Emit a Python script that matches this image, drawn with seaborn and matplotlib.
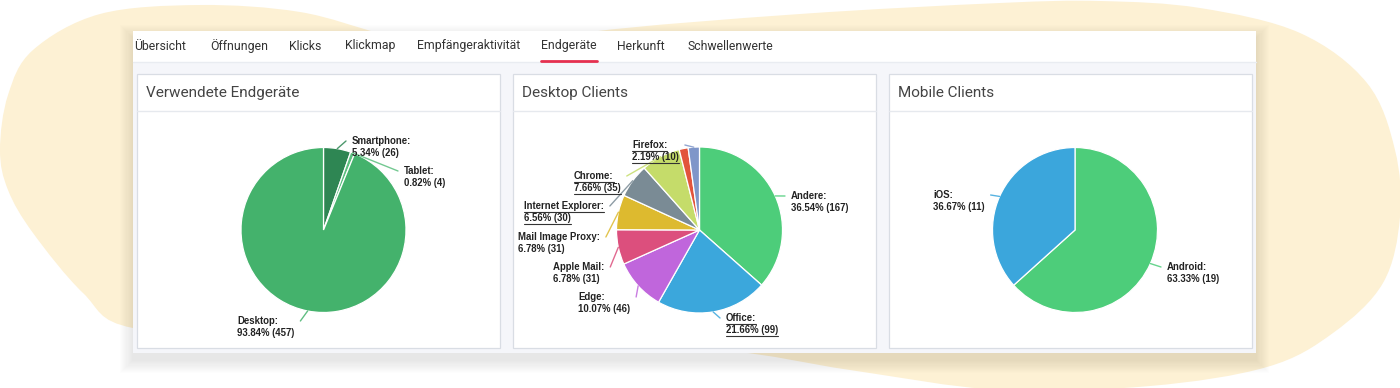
import numpy as np
import matplotlib
matplotlib.use("Agg")
import matplotlib.pyplot as plt
from matplotlib.patches import PathPatch, Rectangle
from matplotlib.path import Path
import seaborn as sns

# --- data ---
tabs = ["Übersicht", "Öffnungen", "Klicks", "Klickmap", "Empfängeraktivität",
        "Endgeräte", "Herkunft", "Schwellenwerte"]
active_tab = "Endgeräte"
titles = ["Verwendete Endgeräte", "Desktop Clients", "Mobile Clients"]

device_labels = ["Smartphone", "Tablet", "Desktop"]
device_counts = [26, 4, 457]

desktop_labels = ["Andere", "Office", "Edge", "Apple Mail", "Mail Image Proxy",
                  "Internet Explorer", "Chrome", "", "Firefox"]
desktop_counts = [167, 99, 46, 31, 31, 30, 35, 8, 10]
desktop_linked = ["Office", "Internet Explorer", "Chrome", "Firefox"]

mobile_labels = ["Android", "iOS"]
mobile_counts = [19, 11]

# --- styles / layout ---
device_colors = ["#2e8653", "#5bbf7e", "#44b26c"]
desktop_colors = ["#4dcd7a", "#3ba7dc", "#c066dc", "#dc4f7d", "#ddba2f",
                  "#7a8b95", "#c5dc6a", "#e2543c", "#7f96c9"]
mobile_colors = ["#4dcd7a", "#3ba6dc"]

# label block positions (x, y of first line, side of pie)
device_pos = [(352, 141, "r"), (404, 171, "r"), (237, 321, "l")]
desktop_pos = [(791, 196, "r"), (726, 318, "r"), (578, 297, "l"), (553, 267, "l"),
               (518, 237, "l"), (524, 206, "l"), (574, 176, "l"), None, (632, 145, "l")]
mobile_pos = [(1167, 267, "r"), (933, 195, "l")]

tab_x = [134, 210, 289, 345, 417, 541, 617, 687]

sns.set_theme(style="white")
plt.rcParams["font.family"] = ["Roboto", "DejaVu Sans"]

W, H = 1400, 388
fig = plt.figure(figsize=(14, 3.88), dpi=100)
fig.patch.set_facecolor("white")
bg = fig.add_axes([0, 0, 1, 1])
bg.set_xlim(0, W)
bg.set_ylim(H, 0)
bg.axis("off")

# cream blob behind the panel (closed Catmull-Rom spline)
pts = np.array([(0, 150), (8, 95), (33, 50), (100, 14), (200, 5), (300, 12), (386, 35),
                (480, 55), (590, 32), (800, 14), (1000, 3), (1100, 1), (1200, 8),
                (1300, 33), (1367, 83), (1395, 150), (1400, 217), (1383, 283),
                (1333, 333), (1267, 367), (1150, 386), (1000, 390), (850, 370),
                (720, 350), (500, 338), (300, 336), (133, 328), (83, 293),
                (33, 233), (8, 190)], dtype=float)
n = len(pts)
verts = [pts[0]]
codes = [Path.MOVETO]
for i in range(n):
    p0, p1, p2, p3 = pts[i - 1], pts[i], pts[(i + 1) % n], pts[(i + 2) % n]
    verts += [p1 + (p2 - p0) / 6, p2 - (p3 - p1) / 6, p2]
    codes += [Path.CURVE4] * 3
bg.add_patch(PathPatch(Path(verts, codes), facecolor="#fdf1d4", edgecolor="none", zorder=0))

# panel shadow (soft, mostly below)
px0, py0, px1, py1 = 133, 31, 1256, 353
for k in range(1, 13):
    e = k * 1.1
    bg.add_patch(Rectangle((px0 - e, py0 - e + 7), px1 - px0 + 2 * e, py1 - py0 + 2 * e,
                           facecolor="black", alpha=0.007, edgecolor="none", zorder=1))

# panel
bg.add_patch(Rectangle((px0, py0), px1 - px0, py1 - py0, facecolor="#f5f6fa",
                       edgecolor="none", zorder=2))
bg.add_patch(Rectangle((px0, py0), px1 - px0, 31, facecolor="white",
                       edgecolor="none", zorder=2))
bg.plot([px0, px1], [62, 62], color="#e9ecf1", lw=1, zorder=3)

for name, x in zip(tabs, tab_x):
    t = bg.text(x, 46, name, fontsize=8.8, color="#333333", va="center", ha="left", zorder=4)
    if name == active_tab:
        active = t

fig.canvas.draw()
renderer = fig.canvas.get_renderer()
bb = active.get_window_extent(renderer)
bg.plot([bb.x0, bb.x1], [60.5, 60.5], color="#e5304f", lw=2, solid_capstyle="round", zorder=4)

# cards
card_x = [137, 513, 889]
card_w = 363
for x, title in zip(card_x, titles):
    bg.add_patch(Rectangle((x, 74), card_w, 274, facecolor="white",
                           edgecolor="#d9dde4", lw=0.9, zorder=3))
    bg.plot([x, x + card_w], [111, 111], color="#e6e9ee", lw=1, zorder=4)
    bg.text(x + 9, 93, title, fontsize=11, color="#444444", va="center", ha="left", zorder=4)

label_font = dict(family=["Liberation Sans", "DejaVu Sans"], fontsize=6.9,
                  fontweight="bold", color="#222222", va="center", ha="left", zorder=5)
pending = []


def draw_pie(cx, cy, r, counts, labels, colors, positions, linked=()):
    ax = fig.add_axes([(cx - r) / W, 1 - (cy + r) / H, 2 * r / W, 2 * r / H])
    wedges, _ = ax.pie(counts, colors=colors, startangle=90, counterclock=False,
                       radius=1, wedgeprops=dict(edgecolor="white", linewidth=0.9))
    ax.set_xlim(-1, 1)
    ax.set_ylim(-1, 1)
    ax.axis("off")
    total = sum(counts)
    for w, lab, cnt, col, pos in zip(wedges, labels, counts, colors, positions):
        if not lab or pos is None:
            continue
        mid = np.deg2rad((w.theta1 + w.theta2) / 2)
        ex, ey = cx + r * np.cos(mid), cy - r * np.sin(mid)
        pending.append((ex, ey, pos, col, lab, f"{100 * cnt / total:.2f}% ({cnt})",
                        lab in linked))


draw_pie(323.5, 230, 82.5, device_counts, device_labels, device_colors, device_pos)
draw_pie(699.5, 230, 83, desktop_counts, desktop_labels, desktop_colors, desktop_pos,
         desktop_linked)
draw_pie(1075, 230, 82.5, mobile_counts, mobile_labels, mobile_colors, mobile_pos)

# overlay for labels and connectors, above the pies
top = fig.add_axes([0, 0, 1, 1])
top.set_xlim(0, W)
top.set_ylim(H, 0)
top.axis("off")
top.patch.set_alpha(0)

texts = []
for ex, ey, (x, y, side), col, lab, val, link in pending:
    t1 = top.text(x, y, lab + ":", **label_font)
    t2 = top.text(x, y + 12, val, **label_font)
    texts.append((t1, t2))

fig.canvas.draw()
renderer = fig.canvas.get_renderer()
for (ex, ey, (x, y, side), col, lab, val, link), (t1, t2) in zip(pending, texts):
    b1 = t1.get_window_extent(renderer)
    b2 = t2.get_window_extent(renderer)
    endx = x - 6 if side == "r" else max(b1.x1, b2.x1) + 6
    top.plot([ex, endx], [ey, y], color=col, lw=1, alpha=0.85, zorder=3)
    if link:
        for b in (b1, b2):
            yy = H - b.y0 + 0.5
            top.plot([b.x0, b.x1], [yy, yy], color="#333333", lw=0.8, zorder=5)

fig.savefig("out.png", dpi=100)
